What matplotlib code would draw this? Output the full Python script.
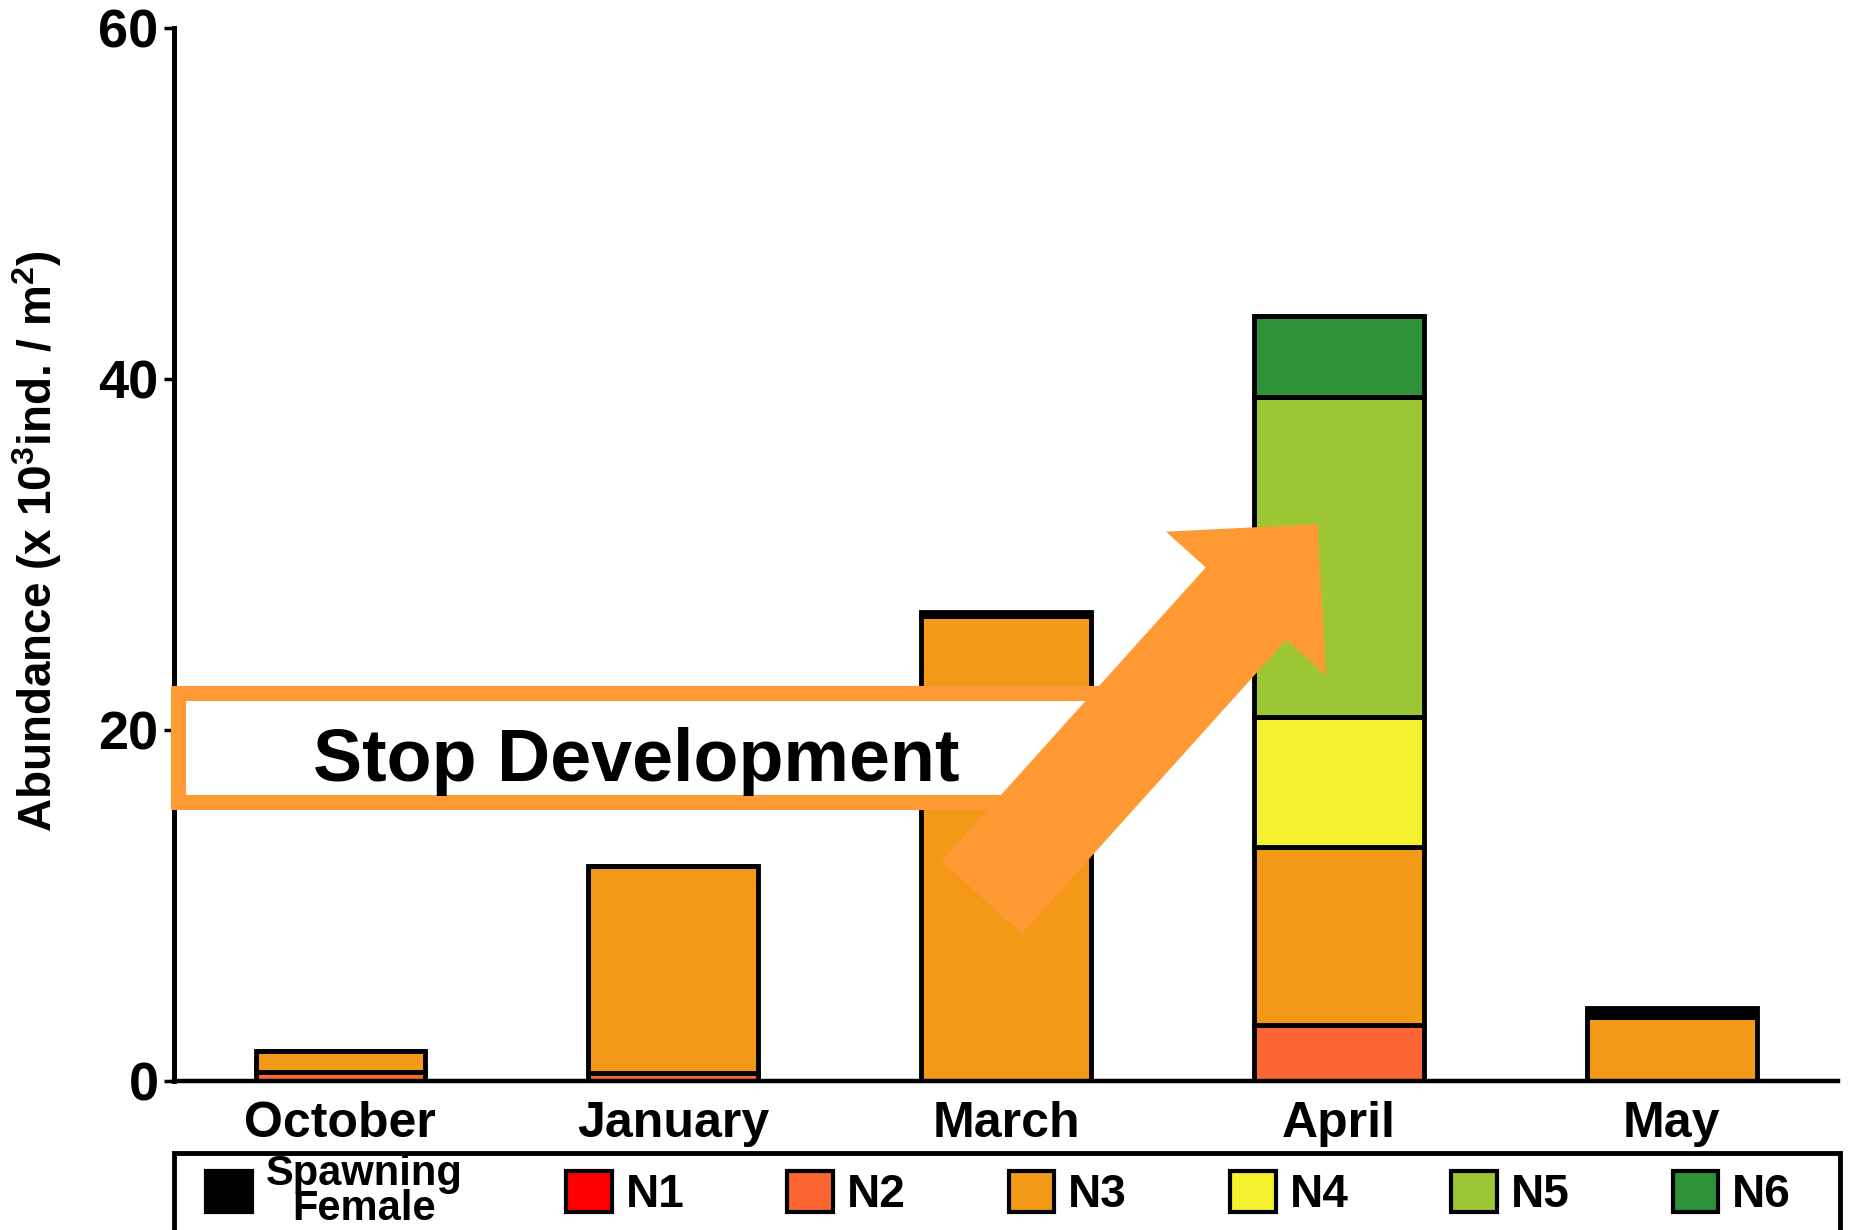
import matplotlib
matplotlib.use("Agg")
import matplotlib.pyplot as plt
from matplotlib.patches import Patch, Rectangle, FancyArrowPatch
import numpy as np

plt.rcParams['font.family'] = ['Liberation Sans', 'DejaVu Sans']
plt.rcParams['font.weight'] = 'bold'
plt.rcParams['mathtext.fontset'] = 'custom'
plt.rcParams['mathtext.rm'] = 'Liberation Sans:bold'
plt.rcParams['mathtext.bf'] = 'Liberation Sans:bold'

# abundance by developmental stage (x10^3 ind. / m^2)
months = ['October', 'January', 'March', 'April', 'May']
n1 = [0.0, 0.0, 0.0, 0.0, 0.0]
n2 = [0.55, 0.45, 0.0, 3.2, 0.0]
n3 = [1.15, 11.8, 26.5, 10.13, 3.67]
n4 = [0.0, 0.0, 0.0, 7.41, 0.0]
n5 = [0.0, 0.0, 0.0, 18.26, 0.0]
n6 = [0.0, 0.0, 0.0, 4.6, 0.0]
spawning = [0.0, 0.0, 0.23, 0.0, 0.49]

stages = [n1, n2, n3, n4, n5, n6, spawning]
stage_names = ['N1', 'N2', 'N3', 'N4', 'N5', 'N6', 'Spawning\nFemale']
colors = ['#FF0000', '#FC6633', '#F29A18', '#F4F22E', '#9CC633', '#2E9238', '#000000']

fig = plt.figure(figsize=(18.51, 12.30), dpi=100)
ax = fig.add_axes([0.094, 0.121, 0.899, 0.856])

x = np.arange(len(months))
bottom = np.zeros(len(months))
for vals, c in zip(stages, colors):
    ax.bar(x, vals, width=0.51, bottom=bottom, color=c, edgecolor='black',
           linewidth=3.5, zorder=2)
    bottom += np.array(vals)

ax.set_xlim(-0.5, 4.5)
ax.set_ylim(0, 60)
ax.set_yticks([0, 20, 40, 60])
ax.set_xticks(x)
ax.set_xticklabels(months, fontsize=36, fontweight='bold')
ax.tick_params(axis='x', length=0, pad=14)
ax.tick_params(axis='y', length=7, width=2.5, labelsize=39, pad=4)
for lab in ax.get_yticklabels():
    lab.set_fontweight('bold')
for s in ['top', 'right']:
    ax.spines[s].set_visible(False)
ax.spines['left'].set_linewidth(3.6)
ax.spines['bottom'].set_linewidth(3.2)

ax.set_ylabel(r'Abundance (x 10$^{\mathbf{3}}$ind. / m$^{\mathbf{2}}$)',
              fontsize=33, fontweight='bold')
ax.yaxis.set_label_coords(-0.066, 0.513)

# annotation: arrow on top of the text box
box = Rectangle((-0.487, 15.9), 2.748, 6.24, facecolor='white',
                edgecolor='#FF9933', linewidth=10.8, zorder=5, clip_on=False)
ax.add_patch(box)
ax.text(0.888, 17.1, 'Stop Development', fontsize=53, fontweight='bold',
        ha='center', va='baseline', zorder=6)
arrow = FancyArrowPatch((1.927, 10.48), (2.936, 31.74),
                        arrowstyle='simple,head_length=77,head_width=155,tail_width=78',
                        mutation_scale=1, shrinkA=0, shrinkB=0,
                        color='#FF9933', linewidth=0, zorder=7)
ax.add_patch(arrow)

# legend along the bottom, inside its own frame
frame = Rectangle((0.094, -0.01), 0.9, 0.0726, transform=fig.transFigure,
                  facecolor='none', edgecolor='black', linewidth=3.5)
fig.patches.append(frame)

order = [6, 0, 1, 2, 3, 4, 5]
handles = [Patch(facecolor=colors[i], edgecolor='black', linewidth=3) for i in order]
labels = [stage_names[i] for i in order]
leg = fig.legend(handles, labels, loc='upper left', ncol=7, mode='expand',
                 bbox_to_anchor=(0.111, -0.01, 0.857, 0.0726),
                 fontsize=33, frameon=False,
                 handlelength=1.0, handleheight=1.0, handletextpad=0.3,
                 borderpad=0.02, borderaxespad=0)
for t in leg.get_texts():
    t.set_fontweight('bold')
sf_text = leg.get_texts()[0]
sf_text.set_fontsize(30)
sf_text.set_multialignment('center')
sf_text.set_linespacing(0.85)

fig.savefig('out.png', dpi=100)
